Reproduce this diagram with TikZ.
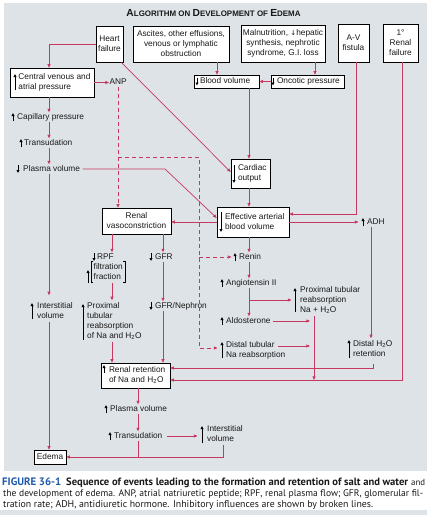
\documentclass[tikz,border=0pt]{standalone}
\usepackage{fontspec}
\usepackage{graphicx}
\setmainfont{Liberation Sans}
\newfontfamily\capfont{PT Sans}
\newfontfamily\arrfont{DejaVu Sans}
\usetikzlibrary{arrows.meta}
\definecolor{bg}{RGB}{222,227,231}
\definecolor{lnk}{RGB}{200,55,95}
\definecolor{figblue}{RGB}{30,90,170}
\definecolor{ink}{RGB}{25,25,25}
\newcommand\tl[1]{\begin{tabular}{@{}l@{}}#1\end{tabular}}
\newcommand\tc[1]{\begin{tabular}{@{}c@{}}#1\end{tabular}}
\newcommand\lbox[2]{\makebox[#1][l]{\tl{#2}}}
\newcommand\SCx[2]{{\fontsize{9.8}{10}\selectfont #1}{\fontsize{7.6}{10}\selectfont #2}}
\newcommand\HtwoO{H\textsubscript{2}O}
\newcommand\dnarr{{\arrfont\fontsize{7}{7}\selectfont ↓}}
\tikzset{
  box/.style={draw=black, line width=0.6pt, fill=white, inner sep=0pt, font=\fontsize{8.3}{10}\selectfont, text=ink},
  lbl/.style={inner sep=0.5pt, font=\fontsize{8.3}{10}\selectfont, text=ink, anchor=west},
  oneline/.style={text height=6.1pt, text depth=1.8pt},
  conn/.style={draw=lnk, line width=0.7pt},
  arr/.style={-{Triangle[length=3.6pt,width=3pt]}},
  dconn/.style={conn, dash pattern=on 4pt off 3pt},
  mk/.style={draw=black, line width=0.7pt, -{Triangle[length=3pt,width=2.8pt]}},
  brk/.style={draw=black, line width=0.5pt},
}
\begin{document}
\begin{tikzpicture}[x=1pt,y=-1pt]
\useasboundingbox (0,0) rectangle (427,515);
\fill[white] (0,0) rectangle (427,515);
\fill[bg] (4,3) rectangle (427,471);
\fill[bg] (0,510) rectangle (427,515);

% title
\node[inner sep=0, text=ink, font=\bfseries] (title) at (213.5,13.5)
  {\resizebox{174pt}{!}{\SCx{A}{LGORITHM ON }\SCx{D}{EVELOPMENT OF }\SCx{E}{DEMA}}};

% column coordinates
\coordinate (cA) at (49,0);
\coordinate (cANP) at (118,0);
\coordinate (cRPF) at (112,0);
\coordinate (cGFR) at (163,0);
\coordinate (cD) at (199,0);
\coordinate (cM) at (249,0);
\coordinate (cP) at (314,0);
\coordinate (cAV) at (356,0);
\coordinate (cADH) at (371,0);
\coordinate (cDH) at (373,0);
\coordinate (cRF) at (402,0);
\coordinate (cB) at (138,0);
\coordinate (cAsc) at (217,0);
\coordinate (cMal) at (315,0);
\coordinate (cIV) at (223,0);
\coordinate (cBend) at (165,0);

% boxes
\node[box, minimum width=27pt, minimum height=36pt] (hf) at (109.5,44) {\tc{Heart\\failure}};
\node[box, minimum width=96pt, minimum height=36pt] (asc) at (181,44) {\tc{Ascites, other effusions,\\venous or lymphatic\\obstruction}};
\node[box, minimum width=84pt, minimum height=37pt] (mal) at (283,43.5) {\tc{Malnutrition, \dnarr hepatic\\synthesis, nephrotic\\syndrome, G.I. loss}};
\node[box, minimum width=31pt, minimum height=38pt] (av) at (353.5,43) {\tc{A-V\\fistula}};
\node[box, minimum width=35pt, minimum height=38pt] (rf) at (400.5,43) {\tc{1°\\Renal\\failure}};
\node[box, minimum width=84pt, minimum height=29pt] (cv) at (52,82.5) {\lbox{67pt}{Central venous and\\atrial pressure}};
\node[box, minimum width=65pt, minimum height=13pt] (bv) at (226.5,81.5) {\lbox{53pt}{Blood volume}};
\node[box, minimum width=73pt, minimum height=13pt] (onc) at (307.5,81.5) {\lbox{61pt}{Oncotic pressure}};
\node[box, minimum width=39pt, minimum height=29pt] (co) at (250.5,173.5) {\lbox{25pt}{Cardiac\\output}};
\node[box, minimum width=72pt, minimum height=30pt] (eab) at (253,222) {\lbox{56pt}{Effective arterial\\blood volume}};
\node[box, minimum width=69pt, minimum height=26pt] (rv) at (136.5,221) {\tc{Renal\\vasoconstriction}};
\node[box, minimum width=69pt, minimum height=25pt] (rr) at (135.5,375.5) {\lbox{53pt}{Renal retention\\of Na and \HtwoO}};
\node[box, minimum width=32pt, minimum height=14pt] (edema) at (50,457) {Edema};
\coordinate (lowY) at ([yshift=-4.5pt]rr.east);

% labels
\node[lbl, oneline] (anp) at (109,82) {ANP};
\node[lbl, oneline] (cap) at (16.5,117) {Capillary pressure};
\node[lbl, oneline] (trans1) at (23.5,143) {Transudation};
\node[lbl, oneline] (pv1) at (22.5,169) {Plasma volume};
\node[lbl] (iv1) at (36.5,311) {\tl{Interstitial\\volume}};
\node[lbl, oneline] (rpf) at (96.5,257) {RPF};
\node[lbl, inner xsep=2.5pt] (ff) at (91,272) {\tl{filtration\\fraction}};
\node[lbl, oneline] (gfr) at (154.5,257) {GFR};
\node[lbl] (prox1) at (86.5,321) {\tl{Proximal\\tubular\\reabsorption\\of Na and \HtwoO}};
\node[lbl, oneline] (gfrn) at (154.5,306) {GFR/Nephron};
\node[lbl, oneline] (renin) at (238.5,257) {Renin};
\node[lbl, oneline] (ang) at (225.5,283) {Angiotensin II};
\node[lbl] (prox2) at (299.5,300) {\tl{Proximal tubular\\reabsorption\\Na + \HtwoO}};
\node[lbl, oneline] (ald) at (225.5,321) {Aldosterone};
\node[lbl] (dt) at (225.5,350) {\tl{Distal tubular\\Na reabsorption}};
\node[lbl, oneline] (adh) at (366.5,222) {ADH};
\node[lbl] (dh2o) at (352.5,349) {\tl{Distal \HtwoO\\retention}};
\node[lbl, oneline] (pv2) at (109.5,409) {Plasma volume};
\node[lbl, oneline] (trans2) at (113.5,436) {Transudation};
\node[lbl] (iv2) at (206.5,434) {\tl{Interstitial\\volume}};

% brackets of filtration fraction
\draw[brk] ([xshift=2pt]ff.north west) -- (ff.north west) -- (ff.south west) -- ([xshift=2pt]ff.south west);
\draw[brk] ([xshift=-2pt]ff.north east) -- (ff.north east) -- (ff.south east) -- ([xshift=-2pt]ff.south east);

% increase / decrease markers
\draw[mk] (15,90) -- (15,74);
\draw[mk] (13,121) -- (13,113);
\draw[mk] (21,147) -- (21,139);
\draw[mk] (18,165) -- (18,173);
\draw[mk] (197,77.5) -- (197,85.5);
\draw[mk] (273,77.5) -- (273,85.5);
\draw[mk] (234,165) -- (234,183);
\draw[mk] (221,212) -- (221,232);
\draw[mk] (363,226) -- (363,218);
\draw[mk] (32,319) -- (32,303);
\draw[mk] (94,253) -- (94,261);
\draw[mk] (88,283) -- (88,270);
\draw[mk] (151,253) -- (151,261);
\draw[mk] (83,340) -- (83,304);
\draw[mk] (151,302) -- (151,310);
\draw[mk] (235,261) -- (235,253);
\draw[mk] (222,287) -- (222,279);
\draw[mk] (295,312) -- (295,288);
\draw[mk] (222,325) -- (222,317);
\draw[mk] (222,358) -- (222,342);
\draw[mk] (349,358) -- (349,340);
\draw[mk] (104,373) -- (104,365);
\draw[mk] (106,413) -- (106,405);
\draw[mk] (110,440) -- (110,432);
\draw[mk] (202,443) -- (202,426);

% junction coordinates
\coordinate (dj) at (118,157);
\coordinate (dk) at (199,257);
\coordinate (ab) at (249,300);

% connectors
\draw[conn,arr] (hf.west) -| (cv.north -| cA);
\draw[conn,arr] ([xshift=-2pt]hf.south east) -- ([yshift=1.5pt]co.west);
\draw[conn,arr] (cv.east) -- (anp.west |- cv.east);
\draw[conn,arr] (asc.south -| cAsc) -- (bv.north -| cAsc);
\draw[conn,arr] (mal.south -| cMal) -- (onc.north -| cMal);
\draw[conn,arr] (onc.west) -- (bv.east);
\draw[conn,arr] (bv.south -| cM) -- (co.north -| cM);
\draw[conn,arr] (co.south -| cM) -- (eab.north -| cM);
\draw[conn,arr] (av.south -| cAV) |- ([yshift=8pt]eab.east);
\draw[conn,arr] (eab.east) -- ([xshift=-8pt]adh.west |- eab.east);
\draw[conn,arr] (rf.south -| cRF) |- (lowY);
\draw[conn,arr] (cv.south -| cA) -- (cap.north -| cA);
\draw[conn,arr] (cap.south -| cA) -- (trans1.north -| cA);
\draw[conn,arr] (trans1.south -| cA) -- (pv1.north -| cA);
\draw[conn,arr,shorten >=5pt] (pv1.south -| cA) -- (iv1.north -| cA);
\draw[conn,arr] (iv1.south -| cA) -- (edema.north -| cA);
\draw[conn,arr,shorten <=2pt] (pv1.east) -- (pv1.east -| cBend) -- ([yshift=4pt]eab.west);
\draw[conn,arr] (eab.west) -- (rv.east |- eab.west);
\draw[dconn,arr] (anp.south -| cANP) -- (rv.north -| cANP);
\draw[dconn,arr] (dj) -| ([yshift=2pt]dt.west -| cD) -- ([xshift=-8pt,yshift=2pt]dt.west);
\draw[dconn,arr] (dk) -- ([xshift=-7pt]renin.west |- dk);
\draw[conn,arr] (rv.south -| cRPF) -- (rpf.north -| cRPF);
\draw[conn,arr] (ff.south -| cRPF) -- (prox1.north -| cRPF);
\draw[conn,arr] (prox1.south -| cRPF) -- (rr.north -| cRPF);
\draw[conn,arr] (rv.south -| cGFR) -- (gfr.north -| cGFR);
\draw[conn,arr] (gfr.south -| cGFR) -- (gfrn.north -| cGFR);
\draw[conn,arr] (gfrn.south -| cGFR) -- (rr.north -| cGFR);
\draw[conn,arr] (eab.south -| cM) -- (renin.north -| cM);
\draw[conn,arr] (renin.south -| cM) -- (ang.north -| cM);
\draw[conn,arr] (ang.south -| cM) -- (ald.north -| cM);
\draw[conn,arr] (ab) -- ([xshift=-8pt]prox2.west |- ab);
\draw[conn,arr,shorten <=2pt] (ald.east) -- ([xshift=-4pt]ald.east -| cP);
\draw[conn,arr] ([xshift=-8pt,yshift=4pt]dt.east) -- ([xshift=-4pt,yshift=4pt]dt.east -| cP);
\draw[conn,arr] (prox2.south -| cP) -- (cP |- lowY);
\draw[conn,arr] (adh.south -| cADH) -- (dh2o.north -| cADH);
\draw[conn,arr,shorten <=4pt] (dh2o.south -| cDH) |- ([yshift=7.5pt]rr.east);
\draw[conn,arr] (rr.south -| cB) -- (pv2.north -| cB);
\draw[conn,arr] (pv2.south -| cB) -- (trans2.north -| cB);
\draw[conn,arr,shorten <=4pt] (trans2.east) -- ([xshift=-9pt]iv2.west |- trans2.east);
\draw[conn,arr] (iv2.south -| cIV) |- (edema.east);
\draw[conn] (trans2.south -| cB) -- (cB |- edema.east);

% caption
\node[anchor=base west, inner sep=0, text=figblue] (figno) at (2,485)
  {\resizebox{59pt}{!}{\capfont\bfseries FIGURE 36-1}};
\node[anchor=base west, inner sep=0, text=ink] (capb) at (66,485)
  {\resizebox{342pt}{!}{\capfont\bfseries Sequence of events leading to the formation and retention of salt and water}};
\node[anchor=base west, inner sep=0, text=ink] (capc) at (411,485)
  {\resizebox{14pt}{!}{\capfont and}};
\node[anchor=base west, inner sep=0, text=ink] (cap2) at (3,496.5)
  {\resizebox{420pt}{!}{\capfont the development of edema. ANP, atrial natriuretic peptide; RPF, renal plasma flow; GFR, glomerular fil-}};
\node[anchor=base west, inner sep=0, text=ink] (cap3) at (3,507.5)
  {\resizebox{370pt}{!}{\capfont tration rate; ADH, antidiuretic hormone. Inhibitory influences are shown by broken lines.}};
\end{tikzpicture}
\end{document}
